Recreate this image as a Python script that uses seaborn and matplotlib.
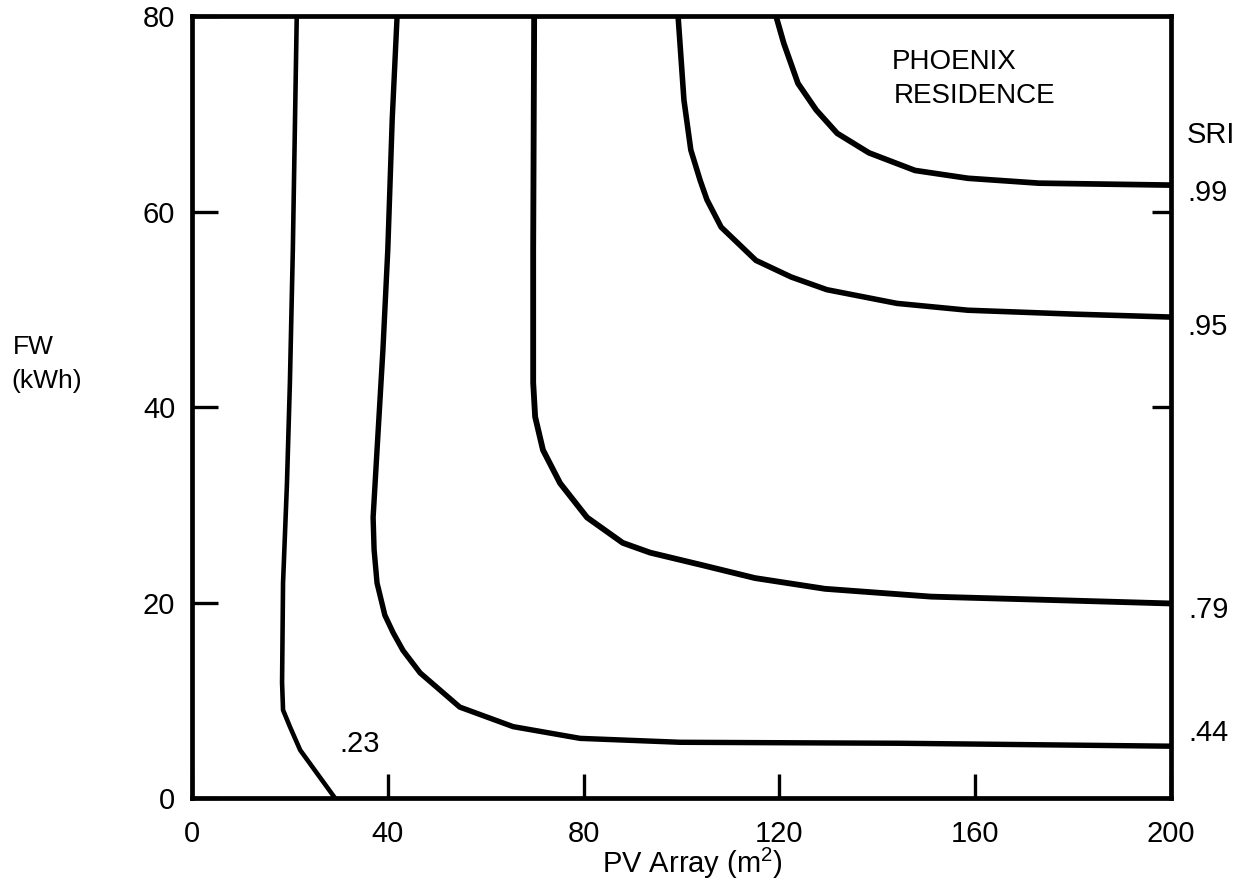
import numpy as np
import pandas as pd
import seaborn as sns
import matplotlib.pyplot as plt

# ---- data (PV array area m^2, FW kWh) ----
sri_levels = [".23", ".44", ".79", ".95", ".99"]

pv_23 = [21.4, 20.6, 20.0, 19.4, 18.6, 18.4, 18.6, 20.0, 22.1, 29.2]
fw_23 = [80.0, 56.1, 42.5, 32.2, 22.0, 11.8, 9.0, 7.3, 4.9, 0.0]

pv_44 = [41.9, 40.9, 40.0, 39.0, 37.8, 37.0, 37.2, 37.8, 39.4, 41.1, 43.1, 46.6, 54.7, 65.6, 79.3, 99.7, 144.6, 200.0]
fw_44 = [80.0, 69.4, 56.1, 45.8, 35.6, 28.7, 25.4, 22.0, 18.7, 16.9, 15.1, 12.8, 9.3, 7.3, 6.1, 5.7, 5.6, 5.3]

pv_79 = [69.9, 69.7, 69.7, 70.1, 71.7, 75.2, 80.7, 88.0, 93.6, 104.4, 115.0, 129.3, 151.0, 172.4, 200.0]
fw_79 = [80.0, 56.1, 42.5, 39.0, 35.6, 32.2, 28.7, 26.1, 25.1, 23.8, 22.5, 21.4, 20.6, 20.3, 19.9]

pv_95 = [99.3, 100.5, 101.9, 103.8, 105.2, 108.1, 115.2, 122.4, 129.7, 144.0, 158.5, 180.2, 200.0]
fw_95 = [80.0, 71.4, 66.3, 63.2, 61.2, 58.4, 55.0, 53.3, 52.0, 50.6, 49.9, 49.5, 49.2]

pv_99 = [119.3, 120.9, 123.8, 127.5, 131.8, 138.3, 147.7, 158.5, 173.0, 200.0]
fw_99 = [80.0, 77.2, 73.1, 70.4, 68.0, 66.0, 64.2, 63.4, 62.9, 62.7]

x_ticks = [0, 40, 80, 120, 160, 200]
x_ticklabels = ["0", "40", "80", "120", "160", "200"]
y_ticks = [0, 20, 40, 60, 80]
y_ticklabels = ["0", "20", "40", "60", "80"]

curves = {".23": (pv_23, fw_23), ".44": (pv_44, fw_44), ".79": (pv_79, fw_79),
          ".95": (pv_95, fw_95), ".99": (pv_99, fw_99)}
frames = []
for lvl in sri_levels:
    xs, ys = curves[lvl]
    frames.append(pd.DataFrame({"pv": xs, "fw": ys, "sri": lvl}))
df = pd.concat(frames, ignore_index=True)

# ---- styling ----
sns.set_theme(style="white")
plt.rcParams["font.family"] = ["Liberation Sans", "DejaVu Sans"]
plt.rcParams["mathtext.fontset"] = "custom"
plt.rcParams["mathtext.rm"] = "Liberation Sans"
plt.rcParams["mathtext.it"] = "Liberation Sans"
for k in ["text.color", "axes.labelcolor", "xtick.color", "ytick.color", "axes.edgecolor"]:
    plt.rcParams[k] = "black"

W, H = 1238, 886
fig = plt.figure(figsize=(W / 100, H / 100), dpi=100)
fig.patch.set_facecolor("white")
ax = fig.add_axes([192 / W, 1 - 798 / H, (1171 - 192) / W, (798 - 16) / H])

line_widths = {".23": 3.3, ".44": 3.9, ".79": 4.2, ".95": 4.0, ".99": 4.1}
sns.lineplot(data=df, x="pv", y="fw", units="sri", size="sri", sizes=line_widths,
             estimator=None, sort=False, color="black", ax=ax, legend=False)
for ln in ax.get_lines():
    ln.set_solid_joinstyle("round")
    ln.set_solid_capstyle("butt")

ax.set_xlim(0, 200)
ax.set_ylim(0, 80)
for s in ax.spines.values():
    s.set_visible(True)
    s.set_color("black")
    s.set_linewidth(3.4)
    s.set_zorder(3)

fs = 21
ax.set_xticks(x_ticks)
ax.set_xticklabels(x_ticklabels)
ax.set_yticks(y_ticks)
ax.set_yticklabels(y_ticklabels)
ax.tick_params(axis="x", which="major", direction="in", length=17, width=2.4,
               bottom=True, top=False, pad=16, labelsize=fs, color="black")
ax.tick_params(axis="y", which="major", direction="in", length=19, width=2.4,
               left=True, right=False, pad=12, labelsize=fs, color="black")

# right-hand ticks (shorter)
ax2 = ax.twinx()
ax2.set_ylim(0, 80)
for s in ax2.spines.values():
    s.set_visible(False)
ax2.set_yticks(y_ticks[1:-1])
ax2.set_yticklabels([])
ax2.tick_params(axis="y", which="major", direction="in", length=14, width=2.4,
                right=True, left=False, color="black")
ax2.grid(False)
ax.grid(False)

ax.set_xlabel("PV Array (m$^{2}$)", fontsize=fs)
ax.xaxis.set_label_coords(0.511, -0.084)
ax.xaxis.label.set_va("center")
ax.set_ylabel("")

# y-axis label at far left
fig.text(13 / W, 1 - 347 / H, "FW", fontsize=19, ha="left", va="center")
fig.text(11 / W, 1 - 381 / H, "(kWh)", fontsize=19, ha="left", va="center")

# title text
ax.text(143.0, 75.3, "PHOENIX", fontsize=20, ha="left", va="center")
ax.text(143.3, 71.8, "RESIDENCE", fontsize=20, ha="left", va="center")

# SRI labels on the right
lab_kw = dict(xycoords="data", textcoords="offset points", fontsize=fs,
              ha="left", va="center", annotation_clip=False)
ax.annotate("SRI", xy=(200, 67.8), xytext=(11.5, 0), **lab_kw)
ax.annotate(".99", xy=(200, 61.9), xytext=(11.5, 0), **lab_kw)
ax.annotate(".95", xy=(200, 48.2), xytext=(11.5, 0), **lab_kw)
ax.annotate(".79", xy=(200, 19.2), xytext=(12.5, 0), **lab_kw)
ax.annotate(".44", xy=(200, 6.6), xytext=(12.5, 0), **lab_kw)
ax.text(34.3, 5.5, ".23", fontsize=fs, ha="center", va="center")

fig.savefig("out.png", dpi=100, facecolor="white")
